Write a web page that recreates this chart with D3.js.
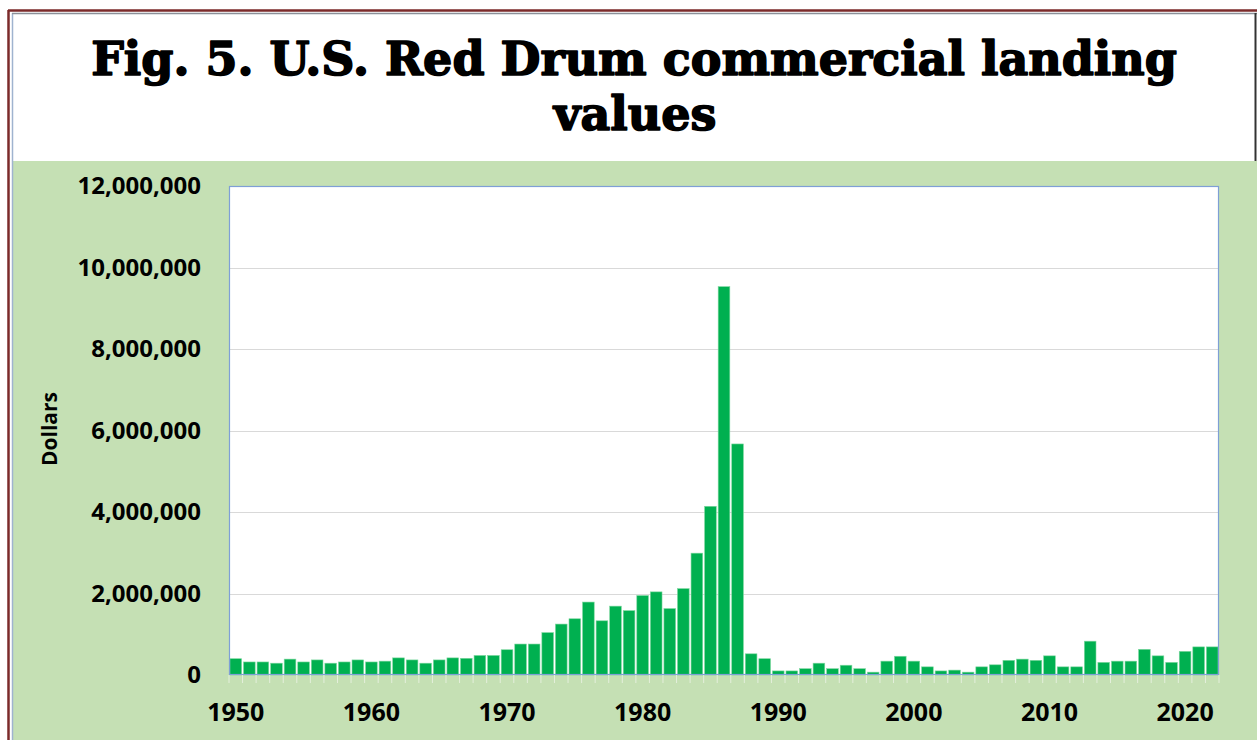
<!DOCTYPE html>
<html>
<head>
<meta charset="utf-8">
<script src="https://cdn.jsdelivr.net/npm/d3@7"></script>
<style>
html,body{margin:0;padding:0;background:#fff;}
svg{display:block;}
</style>
</head>
<body>
<svg id="chart" width="1257" height="740"></svg>
<script>
const years = d3.range(1950, 2023);
const values = [
  400000, 320000, 320000, 290000, 390000, 320000, 370000, 290000, 320000, 370000,
  320000, 340000, 420000, 370000, 290000, 370000, 420000, 410000, 480000, 480000,
  620000, 760000, 760000, 1040000, 1250000, 1380000, 1790000, 1330000, 1690000, 1580000,
  1950000, 2040000, 1630000, 2120000, 2990000, 4140000, 9530000, 5670000, 520000, 400000,
  100000, 100000, 155000, 290000, 155000, 240000, 155000, 70000, 340000, 460000,
  340000, 200000, 100000, 120000, 70000, 200000, 250000, 360000, 390000, 360000,
  470000, 200000, 200000, 830000, 310000, 340000, 340000, 630000, 470000, 310000,
  580000, 690000, 690000
];
const yTicks = [0, 2000000, 4000000, 6000000, 8000000, 10000000, 12000000];
const xTickLabels = [1950, 1960, 1970, 1980, 1990, 2000, 2010, 2020];
const titleLines = ["Fig. 5. U.S. Red Drum commercial landing", "values"];
const yAxisTitle = "Dollars";

const svg = d3.select("#chart");
const W = 1257, H = 740;
const labelFont = "'Open Sans', 'Liberation Sans', sans-serif";

// Frame
svg.append("rect").attr("x", 0).attr("y", 0).attr("width", W).attr("height", H).attr("fill", "#fff");
svg.append("rect").attr("x", 12).attr("y", 161).attr("width", W - 12).attr("height", H - 161).attr("fill", "#c5e0b4");
svg.append("line").attr("x1", 8.5).attr("x2", 8.5).attr("y1", 10).attr("y2", H).attr("stroke", "#7b2a2a").attr("stroke-width", 2.5);
svg.append("line").attr("x1", 8).attr("x2", W).attr("y1", 10.5).attr("y2", 10.5).attr("stroke", "#7b2a2a").attr("stroke-width", 2.5);
svg.append("line").attr("x1", 12.5).attr("x2", 12.5).attr("y1", 13).attr("y2", H).attr("stroke", "#9fb3cf").attr("stroke-width", 1.5);
svg.append("line").attr("x1", 12).attr("x2", W).attr("y1", 13.5).attr("y2", 13.5).attr("stroke", "#8a8f98").attr("stroke-width", 1.5);
svg.append("line").attr("x1", 1255.5).attr("x2", 1255.5).attr("y1", 13).attr("y2", 161).attr("stroke", "#333").attr("stroke-width", 2);

// Title (font size fitted to the reference width)
function fitTitle(text, cx, baseline, targetWidth) {
  const t = svg.append("text").attr("x", cx).attr("y", baseline).attr("text-anchor", "middle")
    .attr("font-family", "'DejaVu Serif', serif").attr("font-weight", "bold").attr("font-size", 50)
    .attr("fill", "#000").attr("stroke", "#000").attr("stroke-width", 1.6).attr("stroke-linejoin", "round")
    .text(text);
  const w = t.node().getComputedTextLength();
  const fs = 50 * (targetWidth - 4) / w;
  t.attr("font-size", fs);
  return fs;
}
const fs1 = fitTitle(titleLines[0], 634, 75, 1090);
svg.append("text").attr("x", 635).attr("y", 130).attr("text-anchor", "middle")
  .attr("font-family", "'DejaVu Serif', serif").attr("font-weight", "bold").attr("font-size", fs1)
  .attr("fill", "#000").attr("stroke", "#000").attr("stroke-width", 1.6).attr("stroke-linejoin", "round")
  .text(titleLines[1]);

// Plot area
const m = {left: 229, right: 1219, top: 186, bottom: 675};
const x = d3.scaleBand().domain(years).range([m.left, m.right]).paddingInner(0.14).paddingOuter(0.07);
const y = d3.scaleLinear().domain([0, 12000000]).range([m.bottom, m.top]);

svg.append("rect").attr("x", m.left).attr("y", m.top).attr("width", m.right - m.left).attr("height", m.bottom - m.top)
  .attr("fill", "#fff");

// gridlines
svg.append("g").selectAll("line").data(yTicks.slice(1, -1)).join("line")
  .attr("x1", m.left).attr("x2", m.right)
  .attr("y1", d => Math.round(y(d)) + 0.5).attr("y2", d => Math.round(y(d)) + 0.5)
  .attr("stroke", "#d9d9d9").attr("stroke-width", 1.2);

// Bars
svg.append("g").selectAll("rect").data(values).join("rect")
  .attr("x", (d, i) => x(years[i]))
  .attr("width", x.bandwidth())
  .attr("y", d => y(d))
  .attr("height", d => y(0) - y(d))
  .attr("fill", "#00b050")
  .attr("stroke", "#7fd8a0").attr("stroke-width", 0.6);

// plot border
svg.append("rect").attr("x", m.left + 0.5).attr("y", m.top + 0.5).attr("width", m.right - m.left - 1).attr("height", m.bottom - m.top - 1)
  .attr("fill", "none").attr("stroke", "#7f9fd6").attr("stroke-width", 1.2);

// x ticks (faint)
svg.append("g").selectAll("line").data(d3.range(years.length + 1)).join("line")
  .attr("x1", i => m.left + i * (m.right - m.left) / years.length)
  .attr("x2", i => m.left + i * (m.right - m.left) / years.length)
  .attr("y1", m.bottom).attr("y2", m.bottom + 8)
  .attr("stroke", "#e4efdc").attr("stroke-width", 1);

// Y axis labels
const yAxis = d3.axisLeft(y).tickValues(yTicks).tickSize(0).tickPadding(0)
  .tickFormat(d3.format(",.0f"));
const gy = svg.append("g").attr("transform", `translate(${m.left - 28},0)`).call(yAxis);
gy.select(".domain").remove();
gy.selectAll("text").attr("font-family", labelFont)
  .attr("font-weight", "bold").attr("font-size", 24).attr("fill", "#000");

// X axis labels
const xAxis = d3.axisBottom(x).tickValues(xTickLabels).tickSize(0).tickPadding(0);
const gx = svg.append("g").attr("transform", `translate(0,${m.bottom + 28})`).call(xAxis);
gx.select(".domain").remove();
gx.selectAll("text").attr("font-family", labelFont)
  .attr("font-weight", "bold").attr("font-size", 25).attr("fill", "#000");

// Y axis title
svg.append("text").attr("transform", "translate(57,429) rotate(-90)").attr("text-anchor", "middle")
  .attr("font-family", labelFont).attr("font-weight", "bold")
  .attr("font-size", 21).attr("fill", "#000").text(yAxisTitle);
</script>
</body>
</html>
